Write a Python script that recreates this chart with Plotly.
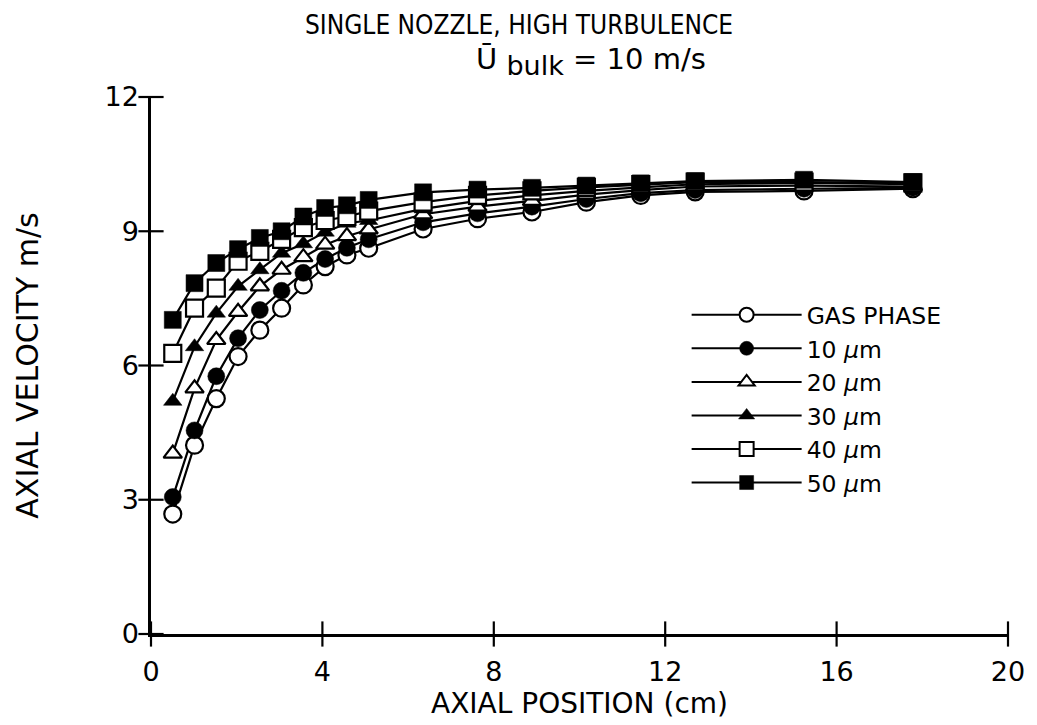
import plotly.graph_objects as go

# ---- data ----
x_pos = [0.508, 1.016, 1.524, 2.032, 2.54, 3.048, 3.556, 4.064, 4.572, 5.08,
         6.35, 7.62, 8.89, 10.16, 11.43, 12.7, 15.24, 17.78]

gas = [2.68, 4.22, 5.26, 6.20, 6.79, 7.28, 7.80, 8.21, 8.47, 8.62,
       9.05, 9.28, 9.43, 9.65, 9.80, 9.88, 9.90, 9.95]
d10 = [3.06, 4.55, 5.76, 6.61, 7.24, 7.67, 8.07, 8.38, 8.63, 8.82,
       9.20, 9.40, 9.55, 9.72, 9.85, 9.92, 9.95, 9.97]
d20 = [4.03, 5.49, 6.57, 7.20, 7.77, 8.14, 8.42, 8.70, 8.89, 9.04,
       9.38, 9.55, 9.68, 9.82, 9.92, 10.00, 10.02, 10.00]
d30 = [5.20, 6.42, 7.17, 7.77, 8.14, 8.51, 8.72, 8.98, 9.18, 9.24,
       9.50, 9.68, 9.80, 9.90, 9.98, 10.05, 10.08, 10.05]
d40 = [6.27, 7.28, 7.73, 8.33, 8.55, 8.82, 9.08, 9.24, 9.33, 9.45,
       9.65, 9.80, 9.90, 9.98, 10.04, 10.10, 10.10, 10.08]
d50 = [7.02, 7.84, 8.29, 8.60, 8.85, 9.00, 9.33, 9.52, 9.58, 9.70,
       9.87, 9.93, 9.97, 10.02, 10.07, 10.12, 10.15, 10.10]

series_names = ["GAS PHASE", "10 <i>µ</i>m", "20 <i>µ</i>m",
                "30 <i>µ</i>m", "40 <i>µ</i>m", "50 <i>µ</i>m"]
series_vals = [gas, d10, d20, d30, d40, d50]
symbols = ["circle-open", "circle", "triangle-up-open", "triangle-up",
           "square-open", "square"]

x_ticks = [0, 4, 8, 12, 16, 20]
y_ticks = [0, 3, 6, 9, 12]

FONT = "DejaVu Sans, Liberation Sans, Arial, sans-serif"
TITLE_FONT = "DejaVu Sans Condensed, Liberation Sans, sans-serif"
BLACK = "#000000"

fig = go.Figure()

# connecting lines first (under every marker)
for vals in series_vals:
    fig.add_trace(go.Scatter(x=x_pos, y=vals, mode="lines",
                             line=dict(color=BLACK, width=2.2),
                             showlegend=False, hoverinfo="skip"))

# markers
for name, vals, sym in zip(series_names, series_vals, symbols):
    is_open = sym.endswith("-open")
    base = sym.replace("-open", "")
    size = 17 if base != "triangle-up" else 16
    fig.add_trace(go.Scatter(
        x=x_pos, y=vals, mode="markers", name=name, showlegend=False,
        marker=dict(symbol=base, size=size,
                    color="white" if is_open else BLACK,
                    line=dict(color=BLACK, width=2.2 if is_open else 0.5))))

# legend entries
for name, sym in zip(series_names, symbols):
    is_open = sym.endswith("-open")
    base = sym.replace("-open", "")
    fig.add_trace(go.Scatter(
        x=[None], y=[None], mode="lines+markers", name=name,
        line=dict(color=BLACK, width=2),
        marker=dict(symbol=base, size=14,
                    color="white" if is_open else BLACK,
                    line=dict(color=BLACK, width=2 if is_open else 0.5))))

# crossing tick marks on both axes (drawn at the tick values)
fig.add_trace(go.Scatter(x=x_ticks, y=[0] * len(x_ticks), mode="markers",
                         marker=dict(symbol="line-ns-open", size=18, color=BLACK,
                                     line=dict(color=BLACK, width=2.2)),
                         cliponaxis=False, showlegend=False, hoverinfo="skip"))
fig.add_trace(go.Scatter(x=[0] * len(y_ticks), y=y_ticks, mode="markers",
                         marker=dict(symbol="line-ew-open", size=18, color=BLACK,
                                     line=dict(color=BLACK, width=2.2)),
                         cliponaxis=False, showlegend=False, hoverinfo="skip"))

axis_common = dict(showgrid=False, zeroline=False, color=BLACK,
                   linecolor=BLACK, tickcolor=BLACK, ticks="", ticklen=0,
                   showline=True, linewidth=2.5)

fig.update_layout(
    width=1037, height=725,
    paper_bgcolor="white", plot_bgcolor="white",
    margin=dict(l=151, r=23, t=97, b=91),
    font=dict(family=FONT, color=BLACK, size=26),
    xaxis=dict(range=[0, 20], tickvals=x_ticks,
               tickfont=dict(size=27), ticklabelstandoff=12,
               title=dict(text="AXIAL POSITION (cm)", font=dict(size=28),
                          standoff=6),
               **axis_common),
    yaxis=dict(range=[0, 12], tickvals=y_ticks,
               tickfont=dict(size=27), ticklabelstandoff=4,
               title=dict(text="AXIAL VELOCITY m/s", font=dict(size=30),
                          standoff=57),
               **axis_common),
    legend=dict(x=0.625, y=0.635, xanchor="left", yanchor="top",
                font=dict(size=23.5), bgcolor="rgba(0,0,0,0)",
                itemwidth=110, tracegroupgap=0),
    annotations=[
        dict(text="SINGLE NOZZLE, HIGH TURBULENCE", xref="paper", yref="paper",
             x=0.429, y=1.0, yshift=72, showarrow=False,
             font=dict(size=26, family=TITLE_FONT), xanchor="center",
             yanchor="middle"),
        dict(text="Ū <sub><span style='font-size:27px'>bulk</span></sub> = 10 m/s",
             xref="paper", yref="paper",
             x=0.514, y=1.0, yshift=36, showarrow=False,
             font=dict(size=29, family=FONT), xanchor="center",
             yanchor="middle"),
    ],
)

fig.write_html("out.html")
